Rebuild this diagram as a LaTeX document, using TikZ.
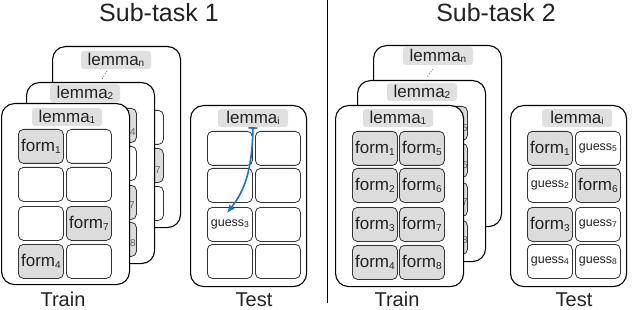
\documentclass[tikz,border=0pt]{standalone}
\usepackage{fontspec}
\setmainfont{Liberation Sans}
\usetikzlibrary{arrows.meta}
\definecolor{cellgray}{HTML}{DCDCDC}
\definecolor{labgray}{HTML}{E0E0E0}
\definecolor{arrblue}{HTML}{1F6FD6}
\definecolor{txt}{HTML}{222222}
\newcommand{\sbs}[1]{\raisebox{-1.5pt}{\fontsize{10}{10}\selectfont #1}}
\newcommand{\fm}[1]{\fontsize{17}{17}\selectfont form\sbs{#1}}
\newcommand{\gs}[1]{\fontsize{12.5}{12.5}\selectfont guess\raisebox{-1pt}{\fontsize{8.5}{8.5}\selectfont #1}}
\newcommand{\lm}[1]{\fontsize{17}{17}\selectfont lemma\sbs{#1}}
\begin{document}
\begin{tikzpicture}[x=1pt,y=-1pt, every node/.style={text=txt},
 card/.style={draw=black, line width=1.1pt, fill=white, rounded corners=13pt, minimum width=128pt, minimum height=181pt, anchor=north west, inner sep=0pt},
 tcard/.style={card, minimum width=116pt},
 cellw/.style={draw=black!80, line width=0.8pt, fill=white, rounded corners=5pt, minimum width=45pt, minimum height=34pt, anchor=north west, inner sep=0pt},
 cellg/.style={cellw, fill=cellgray},
 lab/.style={fill=labgray, rounded corners=3pt, minimum width=70pt, minimum height=18pt, inner sep=0pt},
 ttl/.style={anchor=base, inner sep=0pt, font=\fontsize{25}{25}\selectfont},
 captxt/.style={anchor=base, inner sep=0pt, font=\fontsize{20}{20}\selectfont},
 digit/.style={inner sep=0pt, text=black!60, font=\fontsize{10}{10}\selectfont},
 dotline/.style={dotted, line width=0.8pt, black!60},
 arr/.style={draw=arrblue, line width=1.6pt, {Bar[width=9pt]}-{Latex[length=8pt,width=7pt]}},
]
\useasboundingbox (0,0) rectangle (640,310);

% ---------------- Sub-task 1 ----------------
\node[ttl] (ttl1) at (159,22) {Sub-task 1};

% back card
\node[card] (b1) at (52,46) {};
\node[lab] (b1l) at (116,60) {\lm{n}};
\node[cellw] (b1c1) at (118,110) {};
\node[cellg] (b1c2) at (118,148) {};
\node[cellw] (b1c3) at (118,186) {};
\node[digit] (b1d2) at (158,170) {7};
\coordinate (d1a) at (107,71);
\coordinate (d1b) at (102,79);
\draw[dotline] (d1a) -- (d1b);

% middle card
\node[card] (m1) at (26,82) {};
\node[lab] (m1l) at (85,93) {\lm{2}};
\node[cellg] (m1c1) at (91,108) {};
\node[cellw] (m1c2) at (91,146) {};
\node[cellg] (m1c3) at (91,185) {};
\node[cellg] (m1c4) at (91,222) {};
\node[digit] (m1d1) at (133,132) {4};
\node[digit] (m1d3) at (132,205) {7};
\node[digit] (m1d4) at (133,243) {8};

% front card
\node[card] (f1) at (1,103) {};
\node[lab] (f1l) at (67,117) {\lm{1}};
\node[cellg] (f1a1) at (18,129) {\fm{1}};
\node[cellw] (f1b1) at (66,129) {};
\node[cellw] (f1a2) at (18,167) {};
\node[cellw] (f1b2) at (66,167) {};
\node[cellw] (f1a3) at (18,206) {};
\node[cellg] (f1b3) at (66,206) {\fm{7}};
\node[cellg] (f1a4) at (18,244) {\fm{4}};
\node[cellw] (f1b4) at (66,244) {};

% test card
\node[tcard] (t1) at (190,105) {};
\node[lab] (t1l) at (253,118) {\lm{i}};
\node[cellw] (t1a1) at (207,131) {};
\node[cellw] (t1b1) at (255,131) {};
\node[cellw] (t1a2) at (207,168) {};
\node[cellw] (t1b2) at (255,168) {};
\node[cellw] (t1a3) at (207,207) {\gs{3}};
\node[cellw] (t1b3) at (255,207) {};
\node[cellw] (t1a4) at (207,244) {};
\node[cellw] (t1b4) at (255,244) {};
\coordinate (tip) at (227,213);
\draw[arr] (t1l.south) .. controls (252,170) and (245,190) .. (tip);

\node[captxt] (tr1) at (63,306) {Train};
\node[captxt] (te1) at (254,306) {Test};

% divider
\coordinate (dv1) at (327,0);
\coordinate (dv2) at (327,303);
\draw[line width=0.9pt] (dv1) -- (dv2);

% ---------------- Sub-task 2 ----------------
\node[ttl] (ttl2) at (496,22) {Sub-task 2};

% back card
\node[card] (b2) at (373,45) {};
\node[lab] (b2l) at (438,56) {\lm{n}};
\coordinate (d2a) at (433,69);
\coordinate (d2b) at (427,77);
\draw[dotline] (d2a) -- (d2b);

% middle card
\node[card] (m2) at (357,80) {};
\node[lab] (m2l) at (422,92) {\lm{2}};
\node[cellg] (m2c1) at (422,106) {};
\node[cellg] (m2c2) at (422,143) {};
\node[cellg] (m2c3) at (422,182) {};
\node[cellg] (m2c4) at (422,220) {};
\node[digit] (m2d1) at (465,128) {5};
\node[digit] (m2d2) at (465,165) {6};
\node[digit] (m2d3) at (465,202) {7};
\node[digit] (m2d4) at (465,240) {8};

% front card
\node[card] (f2) at (335,105) {};
\node[lab] (f2l) at (398,118) {\lm{1}};
\node[cellg] (f2a1) at (352,131) {\fm{1}};
\node[cellg] (f2b1) at (399,131) {\fm{5}};
\node[cellg] (f2a2) at (352,168) {\fm{2}};
\node[cellg] (f2b2) at (399,168) {\fm{6}};
\node[cellg] (f2a3) at (352,207) {\fm{3}};
\node[cellg] (f2b3) at (399,207) {\fm{7}};
\node[cellg] (f2a4) at (352,245) {\fm{4}};
\node[cellg] (f2b4) at (399,245) {\fm{8}};

% test card
\node[tcard] (t2) at (510,105) {};
\node[lab] (t2l) at (577,118) {\lm{i}};
\node[cellg] (t2a1) at (527,131) {\fm{1}};
\node[cellw] (t2b1) at (575,131) {\gs{5}};
\node[cellw] (t2a2) at (527,168) {\gs{2}};
\node[cellg] (t2b2) at (575,168) {\fm{6}};
\node[cellg] (t2a3) at (527,207) {\fm{3}};
\node[cellw] (t2b3) at (575,207) {\gs{7}};
\node[cellw] (t2a4) at (527,244) {\gs{4}};
\node[cellw] (t2b4) at (575,244) {\gs{8}};

\node[captxt] (tr2) at (397,306) {Train};
\node[captxt] (te2) at (574,306) {Test};
\end{tikzpicture}
\end{document}
